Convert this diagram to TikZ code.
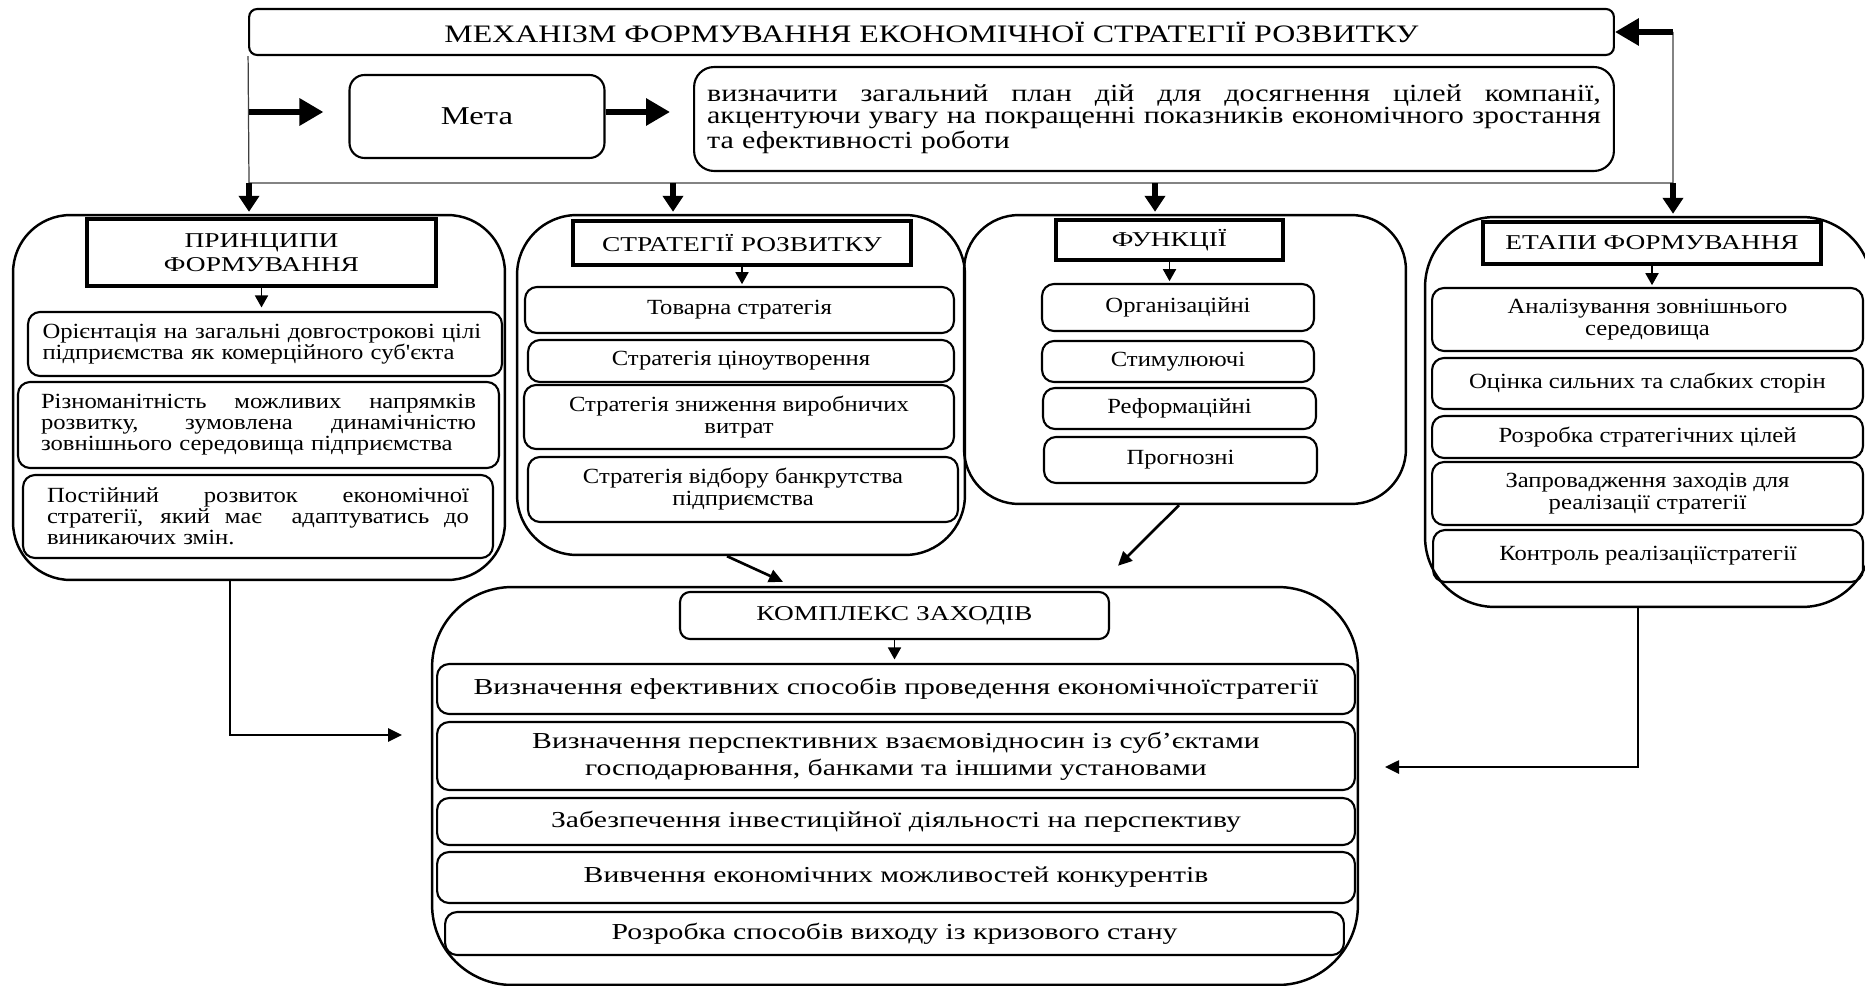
\documentclass[tikz,border=0pt]{standalone}
\usepackage{fontspec}
\setmainfont{Liberation Serif}[FakeStretch=1.3]
\newfontfamily\titlefont{Liberation Serif}[FakeStretch=1.27]
\newfontfamily\goalfont{Liberation Serif}[FakeStretch=1.22]
\newfontfamily\itemfont{Liberation Serif}[FakeStretch=1.14]
\usetikzlibrary{arrows.meta,calc}
\setlength\lineskiplimit{-10pt}
\newcommand\jline[1]{\leavevmode\hbox to\hsize{\spaceskip=0.25em plus 1fil\relax #1}}
\newcommand\sqapos{{\addfontfeature{Ligatures=TeXOff}'}}

\begin{document}
\begin{tikzpicture}[x=0.02cm, y=-0.02cm,
    font=\itemfont\fontsize{12.3}{12.5}\selectfont,
    panel/.style={draw, line width=1.4pt, inner sep=0pt},
    itembox/.style={draw, line width=1.2pt, rounded corners=0.24cm, inner sep=0pt, align=center},
    headbox/.style={draw, line width=1.8pt, inner sep=0pt, align=center, font=\rmfamily\fontsize{12}{14}\selectfont},
    topbox/.style={draw, line width=1.2pt, inner sep=0pt},
    thinline/.style={line width=0.7pt, black!75},
    bigarrow/.style={line width=3.6pt, -{Triangle[length=0.48cm, width=0.52cm]}},
    downarrow/.style={line width=3.2pt, -{Triangle[length=0.32cm, width=0.4cm]}},
    smallarrow/.style={line width=1pt, -{Triangle[length=0.24cm, width=0.26cm]}},
    linkarrow/.style={line width=1.5pt, -{Triangle[length=0.28cm, width=0.26cm]}}]
  \path[use as bounding box] (0,0) rectangle (1865,986);
  \clip (0,0) rectangle (1865,986);

  % top row
  \node[topbox, rounded corners=0.16cm, minimum width=27.3cm, minimum height=0.92cm,
        font=\titlefont\fontsize{14.3}{16}\selectfont] (title) at (931.5,32)
       {МЕХАНІЗМ ФОРМУВАННЯ ЕКОНОМІЧНОЇ СТРАТЕГІЇ РОЗВИТКУ};
  \node[topbox, rounded corners=0.3cm, minimum width=5.1cm, minimum height=1.66cm,
        font=\titlefont\fontsize{14.6}{16}\selectfont] (meta) at (477,116.5) {Мета};
  \node[topbox, rounded corners=0.4cm, minimum width=18.4cm, minimum height=2.08cm,
        text width=17.88cm, align=left, font=\goalfont\fontsize{14}{12.6}\selectfont] (goal) at (1154,119)
       {\jline{визначити загальний план дій для досягнення цілей компанії,}\\
        \jline{акцентуючи увагу на покращенні показників економічного зростання}\\
        та ефективності роботи};

  \coordinate (jl) at (249,183);
  \coordinate (jr) at (1673,183);
  \coordinate (tr) at (1673,32);
  \coordinate (ml) at (249,112);
  \draw[thinline] (title.south west) -- (jl) -- (jr) -- (tr);
  \draw[bigarrow] (tr) -- (title.east);
  \draw[bigarrow, shorten >=0.5cm] (ml) -- (ml -| meta.west);
  \draw[bigarrow, shorten >=0.46cm] (ml -| meta.east) -- (ml -| goal.west);

  % four panels
  \node[panel, rounded corners=1.15cm, minimum width=9.84cm, minimum height=7.3cm] (p1) at (259,397.5) {};
  \node[panel, rounded corners=1.2cm, minimum width=8.96cm, minimum height=6.8cm] (p2) at (741,385) {};
  \node[panel, rounded corners=1.1cm, minimum width=8.84cm, minimum height=5.78cm] (p3) at (1185,359.5) {};
  \node[panel, rounded corners=1.4cm, minimum width=8.94cm, minimum height=7.8cm] (p4) at (1648.5,412) {};

  \coordinate (d2) at (673,183);
  \coordinate (d3) at (1155,183);
  \draw[downarrow] (jl) -- ($(jl |- p1.north)+(0,-2)$);
  \draw[downarrow] (d2) -- ($(d2 |- p2.north)+(0,-2)$);
  \draw[downarrow] (d3) -- ($(d3 |- p3.north)+(0,-2)$);
  \draw[downarrow] (jr) -- ($(jr |- p4.north)+(0,-2)$);

  \node[headbox, minimum width=6.98cm, minimum height=1.34cm] (h1) at (261.5,252.5) {ПРИНЦИПИ\\ФОРМУВАННЯ};
  \begin{scope}[font=\itemfont\fontsize{12.3}{12}\selectfont]
    \node[itembox, minimum width=9.48cm, minimum height=1.28cm, text width=8.9cm, align=left] (i1a) at (265,344)
         {Орієнтація на загальні довгострокові цілі\\підприємства як комерційного суб\sqapos єкта};
    \node[itembox, minimum width=9.62cm, minimum height=1.72cm, text width=8.7cm, align=left] (i1b) at (258.5,425)
         {\jline{Різноманітність можливих напрямків}\\\jline{розвитку, зумовлена динамічністю}\\зовнішнього середовища підприємства};
    \node[itembox, minimum width=9.4cm, minimum height=1.66cm, text width=8.44cm, align=left] (i1c) at (258,516.5)
         {\jline{Постійний розвиток економічної}\\\jline{стратегії, який має \ адаптуватись до}\\виникаючих змін.};
  \end{scope}

  \node[headbox, minimum width=6.76cm, minimum height=0.88cm] (h2) at (742,243) {СТРАТЕГІЇ РОЗВИТКУ};
  \node[itembox, minimum width=8.58cm, minimum height=0.92cm] (i2a) at (739.5,310) {Товарна стратегія};
  \node[itembox, minimum width=8.52cm, minimum height=0.84cm] (i2b) at (741,361) {Стратегія ціноутворення};
  \node[itembox, minimum width=8.6cm, minimum height=1.28cm] (i2c) at (739,417) {Стратегія зниження виробничих\\витрат};
  \node[itembox, minimum width=8.6cm, minimum height=1.3cm] (i2d) at (743,489.5) {Стратегія відбору банкрутства\\підприємства};

  \node[headbox, minimum width=4.54cm, minimum height=0.8cm] (h3) at (1169.5,240) {ФУНКЦІЇ};
  \node[itembox, minimum width=5.44cm, minimum height=0.94cm] (i3a) at (1178,307.5) {Організаційні};
  \node[itembox, minimum width=5.44cm, minimum height=0.82cm] (i3b) at (1178,361.5) {Стимулюючі};
  \node[itembox, minimum width=5.46cm, minimum height=0.82cm] (i3c) at (1179.5,408.5) {Реформаційні};
  \node[itembox, minimum width=5.46cm, minimum height=0.92cm] (i3d) at (1180.5,460) {Прогнозні};

  \node[headbox, minimum width=6.76cm, minimum height=0.84cm] (h4) at (1652,243) {ЕТАПИ ФОРМУВАННЯ};
  \node[itembox, minimum width=8.62cm, minimum height=1.26cm] (i4a) at (1647.5,319.5) {Аналізування зовнішнього\\середовища};
  \node[itembox, minimum width=8.62cm, minimum height=1.02cm] (i4b) at (1647.5,383.5) {Оцінка сильних та слабких сторін};
  \node[itembox, minimum width=8.62cm, minimum height=0.84cm] (i4c) at (1647.5,437) {Розробка стратегічних цілей};
  \node[itembox, minimum width=8.62cm, minimum height=1.26cm] (i4d) at (1647.5,493.5) {Запровадження заходів для\\реалізації стратегії};
  \node[itembox, minimum width=8.6cm, minimum height=1.04cm] (i4e) at (1648,556) {Контроль реалізаціїстратегії};

  \draw[smallarrow, shorten >=2pt] (h1.south) -- (h1.south |- i1a.north);
  \draw[smallarrow, shorten >=1pt] (h2.south) -- (h2.south |- i2a.north);
  \draw[smallarrow, shorten >=1pt] (h3.south) -- (h3.south |- i3a.north);
  \draw[smallarrow, shorten >=1pt] (h4.south) -- (h4.south |- i4a.north);

  % bottom block
  \node[panel, rounded corners=1.6cm, minimum width=18.52cm, minimum height=7.96cm] (bot) at (895,786) {};
  \node[itembox, rounded corners=0.2cm, minimum width=8.58cm, minimum height=0.94cm,
        font=\rmfamily\fontsize{12}{14}\selectfont] (h5) at (894.5,615.5) {КОМПЛЕКС ЗАХОДІВ};
  \begin{scope}[font=\rmfamily\fontsize{13}{15.5}\selectfont]
    \node[itembox, minimum width=18.36cm, minimum height=1.0cm] (i5a) at (896,689)
         {Визначення ефективних способів проведення економічноїстратегії};
    \node[itembox, minimum width=18.36cm, minimum height=1.36cm] (i5b) at (896,756)
         {Визначення перспективних взаємовідносин із суб’єктами\\господарювання, банками та іншими установами};
    \node[itembox, minimum width=18.36cm, minimum height=0.94cm] (i5c) at (896,821.5)
         {Забезпечення інвестиційної діяльності на перспективу};
    \node[itembox, minimum width=18.36cm, minimum height=1.02cm] (i5d) at (896,877.5)
         {Вивчення економічних можливостей конкурентів};
    \node[itembox, minimum width=17.98cm, minimum height=0.86cm] (i5e) at (894.5,933.5)
         {Розробка способів виходу із кризового стану};
  \end{scope}
  \draw[smallarrow, shorten >=2pt] (h5.south) -- (h5.south |- i5a.north);

  % links into the bottom block
  \coordinate (lin) at (402,735);
  \coordinate (rin) at (1385,767);
  \draw[linkarrow] ($(p1.south)+(-29,0)$) |- (lin);
  \draw[linkarrow] ($(p2.south)+(-14,0)$) -- ($(bot.north)+(-112,-4)$);
  \draw[linkarrow] ($(p3.south)+(-6,0)$) -- ($(bot.north)+(223,-20)$);
  \draw[linkarrow] ($(p4.south)+(-10.5,0)$) |- (rin);
\end{tikzpicture}
\end{document}
